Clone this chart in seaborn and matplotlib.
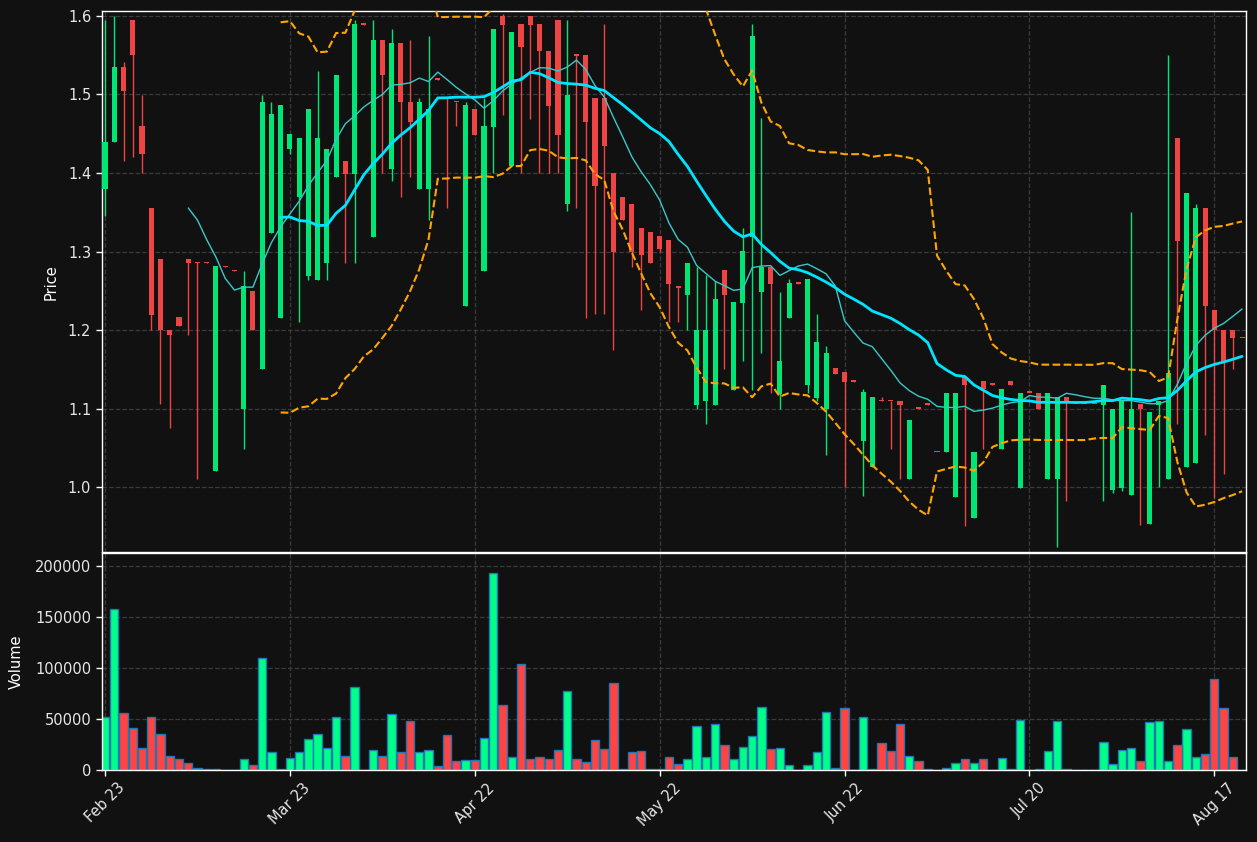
import numpy as np
import pandas as pd
import matplotlib
matplotlib.use('Agg')
import matplotlib.pyplot as plt
import seaborn as sns

BG = '#111111'
UP, DOWN = '#00e676', '#ef4444'
VOL_UP, VOL_DOWN = '#00ff88', '#ff4444'

# tick labels, one every 20 bars
tick_labels = ['Feb 23', 'Mar 23', 'Apr 22', 'May 22', 'Jun 22', 'Jul 20', 'Aug 17']

opens = [1.379, 1.439, 1.535, 1.595, 1.460, 1.356, 1.291, 1.200, 1.216, 1.291,
         1.286, 1.286, 1.020, 1.281, 1.276, 1.100, 1.250, 1.150, 1.324, 1.215,
         1.430, 1.369, 1.269, 1.264, 1.285, 1.395, 1.415, 1.399, 1.590, 1.319,
         1.570, 1.405, 1.565, 1.491, 1.379, 1.379, 1.520, 1.496, 1.491, 1.230,
         1.481, 1.275, 1.459, 1.600, 1.409, 1.590, 1.600, 1.590, 1.556, 1.595,
         1.360, 1.550, 1.550, 1.496, 1.496, 1.400, 1.370, 1.361, 1.330, 1.325,
         1.320, 1.315, 1.255, 1.244, 1.105, 1.109, 1.105, 1.276, 1.124, 1.235,
         1.319, 1.249, 1.280, 1.118, 1.215, 1.260, 1.130, 1.114, 1.100, 1.151,
         1.146, 1.135, 1.059, 1.025, 1.110, 1.110, 1.110, 1.010, 1.101, 1.106,
         1.045, 1.044, 0.987, 1.140, 0.960, 1.135, 1.131, 1.049, 1.135, 0.999,
         1.120, 1.120, 1.010, 1.010, 1.115, 1.1062, 1.1060, 1.1058, 1.105, 0.996,
         0.999, 0.990, 1.106, 0.953, 1.105, 1.010, 1.445, 1.025, 1.030, 1.355,
         1.226, 1.200, 1.200, 1.190]
highs = [1.595, 1.600, 1.541, 1.595, 1.499, 1.356, 1.291, 1.200, 1.216, 1.291,
         1.286, 1.286, 1.281, 1.281, 1.276, 1.275, 1.250, 1.499, 1.490, 1.486,
         1.450, 1.445, 1.481, 1.530, 1.431, 1.525, 1.415, 1.595, 1.590, 1.595,
         1.570, 1.584, 1.565, 1.570, 1.495, 1.575, 1.520, 1.496, 1.491, 1.490,
         1.481, 1.495, 1.584, 1.603, 1.580, 1.590, 1.600, 1.590, 1.556, 1.595,
         1.595, 1.551, 1.550, 1.496, 1.590, 1.400, 1.370, 1.361, 1.330, 1.325,
         1.320, 1.315, 1.255, 1.285, 1.280, 1.270, 1.263, 1.276, 1.236, 1.330,
         1.590, 1.470, 1.280, 1.249, 1.265, 1.260, 1.265, 1.221, 1.180, 1.151,
         1.146, 1.135, 1.125, 1.115, 1.115, 1.110, 1.110, 1.086, 1.101, 1.106,
         1.045, 1.120, 1.120, 1.140, 1.045, 1.135, 1.131, 1.125, 1.135, 1.120,
         1.1202, 1.120, 1.120, 1.115, 1.115, 1.1062, 1.1060, 1.1058, 1.130, 1.100,
         1.110, 1.350, 1.106, 1.096, 1.109, 1.550, 1.445, 1.374, 1.361, 1.355,
         1.226, 1.200, 1.200, 1.190]
lows = [1.345, 1.439, 1.415, 1.420, 1.400, 1.200, 1.106, 1.075, 1.205, 1.194,
        1.010, 1.285, 1.020, 1.280, 1.275, 1.049, 1.200, 1.150, 1.324, 1.215,
        1.424, 1.210, 1.264, 1.264, 1.264, 1.395, 1.285, 1.285, 1.589, 1.319,
        1.400, 1.390, 1.369, 1.395, 1.379, 1.340, 1.519, 1.355, 1.460, 1.230,
        1.449, 1.275, 1.400, 1.474, 1.409, 1.400, 1.469, 1.400, 1.400, 1.400,
        1.351, 1.355, 1.215, 1.220, 1.220, 1.174, 1.340, 1.280, 1.226, 1.285,
        1.300, 1.210, 1.210, 1.200, 1.100, 1.080, 1.105, 1.150, 1.124, 1.160,
        1.124, 1.171, 1.120, 1.100, 1.215, 1.259, 1.120, 1.109, 1.041, 1.144,
        1.000, 1.134, 0.989, 1.025, 1.109, 1.049, 1.010, 1.010, 1.100, 1.105,
        1.044, 1.044, 0.987, 0.950, 0.960, 1.049, 1.130, 1.049, 1.130, 0.999,
        1.1195, 1.100, 1.010, 0.923, 0.982, 1.1058, 1.1055, 1.1052, 0.982, 0.993,
        0.995, 0.990, 0.951, 0.953, 1.000, 1.010, 1.080, 1.025, 1.030, 1.066,
        0.986, 1.016, 1.150, 1.1895]
closes = [1.439, 1.535, 1.504, 1.550, 1.424, 1.219, 1.200, 1.194, 1.205, 1.285,
          1.285, 1.285, 1.281, 1.280, 1.275, 1.256, 1.200, 1.491, 1.475, 1.486,
          1.450, 1.445, 1.481, 1.445, 1.431, 1.525, 1.399, 1.590, 1.589, 1.570,
          1.525, 1.565, 1.490, 1.465, 1.491, 1.481, 1.519, 1.495, 1.490, 1.486,
          1.449, 1.460, 1.584, 1.589, 1.579, 1.560, 1.589, 1.555, 1.485, 1.449,
          1.499, 1.549, 1.465, 1.384, 1.434, 1.300, 1.340, 1.300, 1.295, 1.285,
          1.303, 1.259, 1.254, 1.285, 1.200, 1.200, 1.240, 1.244, 1.236, 1.301,
          1.575, 1.280, 1.259, 1.161, 1.260, 1.259, 1.265, 1.185, 1.171, 1.144,
          1.134, 1.134, 1.121, 1.115, 1.109, 1.109, 1.105, 1.086, 1.100, 1.105,
          1.044, 1.120, 1.120, 1.130, 1.045, 1.125, 1.130, 1.125, 1.130, 1.120,
          1.1199, 1.100, 1.120, 1.115, 1.109, 1.1058, 1.1055, 1.1052, 1.130, 1.100,
          1.110, 1.100, 1.100, 1.096, 1.109, 1.145, 1.314, 1.374, 1.355, 1.230,
          1.200, 1.161, 1.190, 1.1895]
volumes = [52300, 158200, 56200, 41500, 21900, 51600, 35000, 14000, 11100, 6500,
           2300, 700, 600, 0, 0, 11100, 4600, 109500, 18000, 1300,
           12100, 18000, 30700, 35000, 21900, 52300, 14000, 81700, 0, 19900,
           14000, 55200, 18000, 48400, 18000, 19900, 4200, 34000, 8500, 10100,
           10100, 31700, 192800, 63400, 13100, 103600, 11100, 13100, 11100, 19300,
           77100, 11100, 7500, 29100, 20300, 85000, 1300, 17300, 18300, 1300,
           600, 12400, 5600, 11100, 42800, 13100, 44800, 24200, 10500, 22200,
           33000, 61400, 20300, 21200, 4600, 0, 4600, 17300, 56500, 1600,
           60500, 0, 51600, 1300, 26100, 18300, 44800, 14000, 8500, 650,
           0, 2300, 6500, 10500, 6500, 10500, 0, 11400, 650, 48700,
           0, 650, 18300, 47700, 650, 0, 0, 0, 27100, 5600,
           19300, 21200, 8500, 46700, 47700, 8500, 24200, 39900, 13100, 15400,
           88900, 60500, 13100, 0]

df = pd.DataFrame({'o': opens, 'h': highs, 'l': lows, 'c': closes, 'v': volumes})
df['idx'] = np.arange(len(df))
df['dir'] = np.where(df['c'] >= df['o'], 'up', 'down')

# indicators from the closes: SMA10, SMA20 and 20-bar Bollinger bands
df['ma10'] = df['c'].rolling(10).mean()
df['ma20'] = df['c'].rolling(20).mean()
sd = df['c'].rolling(20).std(ddof=0)
df['bb_up'] = df['ma20'] + 2 * sd
df['bb_lo'] = df['ma20'] - 2 * sd

sns.set_theme(style='dark', rc={
    'figure.facecolor': BG, 'axes.facecolor': BG, 'axes.edgecolor': 'white',
    'axes.labelcolor': 'white', 'text.color': 'white',
    'xtick.color': 'white', 'ytick.color': 'white',
    'xtick.labelcolor': '#e6e6e6', 'ytick.labelcolor': '#e6e6e6',
    'xtick.labelsize': 10.5, 'ytick.labelsize': 10.5, 'axes.labelsize': 10.5,
    'grid.color': '#3a3a3a', 'grid.linestyle': '--', 'grid.linewidth': 0.9,
})
plt.rcParams['font.family'] = ['DejaVu Sans']

fig = plt.figure(figsize=(12.57, 8.42), dpi=100)
axp = fig.add_axes([0.0809, 0.3442, 0.9106, 0.6424])
axv = fig.add_axes([0.0809, 0.0855, 0.9106, 0.2574], sharex=axp)

# candles
cols = np.where(df['dir'] == 'up', UP, DOWN)
axp.vlines(df['idx'], df['l'], df['h'], colors=cols, linewidth=1, zorder=2)
body = (df['c'] - df['o']).abs().clip(lower=0.002)
axp.bar(df['idx'], body, bottom=df[['o', 'c']].min(axis=1), width=0.55,
        color=cols, linewidth=0, zorder=3)

sns.lineplot(data=df, x='idx', y='ma10', ax=axp, color='#3cc8c8', linewidth=1, zorder=4)
sns.lineplot(data=df, x='idx', y='ma20', ax=axp, color='#00e5ff', linewidth=2, zorder=5)
sns.lineplot(data=df, x='idx', y='bb_up', ax=axp, color='orange', linewidth=1.5,
             linestyle='--', zorder=4)
sns.lineplot(data=df, x='idx', y='bb_lo', ax=axp, color='orange', linewidth=1.5,
             linestyle='--', zorder=4)

# volume
sns.barplot(data=df, x='idx', y='v', hue='dir', palette={'up': VOL_UP, 'down': VOL_DOWN},
            dodge=False, native_scale=True, width=0.9, saturation=1,
            edgecolor='#1f77b4', linewidth=1, errorbar=None, legend=False, ax=axv)

axp.set_xlim(-0.36, 123.46)
axp.set_ylim(0.917, 1.606)
axv.set_ylim(0, 212500)

axp.set_yticks(np.arange(1.0, 1.61, 0.1))
axp.yaxis.set_major_formatter(matplotlib.ticker.FormatStrFormatter('%.1f'))
axv.set_yticks([0, 50000, 100000, 150000, 200000])
axv.set_xticks(range(0, len(df), 20))
axv.set_xticklabels(tick_labels, rotation=45)
axp.tick_params(labelbottom=False)

axp.set_ylabel('Price', labelpad=7)
axv.set_ylabel('Volume', labelpad=8)
axp.set_xlabel('')
axv.set_xlabel('')

for ax in (axp, axv):
    ax.grid(True, axis='both')
    ax.tick_params(bottom=True, left=True, length=4, width=1, color='white')
    for s in ax.spines.values():
        s.set_color('white')
        s.set_linewidth(1)
        s.set_visible(True)

fig.savefig('out.png', dpi=100, facecolor=BG)
